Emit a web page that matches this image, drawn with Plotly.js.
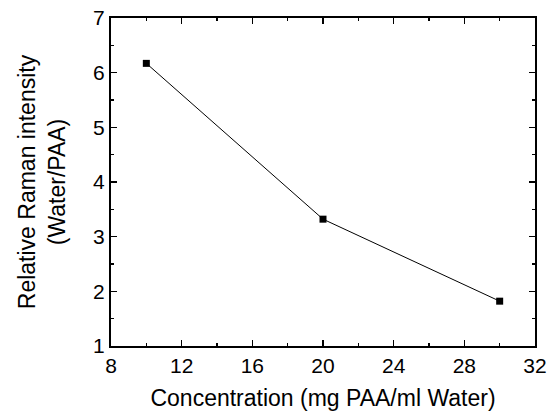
<!DOCTYPE html>
<html>
<head>
<meta charset="utf-8">
<script src="https://cdn.plot.ly/plotly-3.0.1.min.js"></script>
<style>html,body{margin:0;padding:0;background:#fff;}#chart{width:554px;height:413px;}</style>
</head>
<body>
<div id="chart"></div>
<script>
const concentration = [10, 20, 30];
const intensity = [6.17, 3.32, 1.82];
const xTicks = [8, 12, 16, 20, 24, 28, 32];
const yTicks = [1, 2, 3, 4, 5, 6, 7];

const trace = {
  x: concentration,
  y: intensity,
  mode: 'lines+markers',
  type: 'scatter',
  line: {color: '#000', width: 1},
  marker: {symbol: 'square', size: 7, color: '#000'},
  showlegend: false
};

const font = {family: 'Liberation Sans, Arial, sans-serif', color: '#000'};
const axisCommon = {
  showgrid: false, zeroline: false,
  showline: true, linecolor: '#000', linewidth: 2, mirror: 'ticks',
  ticks: 'inside', ticklen: 6, tickwidth: 1.5, tickcolor: '#000',
  tickfont: Object.assign({size: 21}, font)
};

const layout = {
  width: 554, height: 413,
  margin: {l: 111, r: 19, t: 18, b: 67},
  paper_bgcolor: '#fff', plot_bgcolor: '#fff',
  xaxis: Object.assign({}, axisCommon, {
    range: [8, 32], tickvals: xTicks, ticktext: xTicks.map(String),
    minor: {ticks: 'inside', ticklen: 3, tickwidth: 1.5, tickcolor: '#000', dtick: 2, tick0: 8},
    title: {text: 'Concentration (mg PAA/ml Water)', font: Object.assign({size: 23}, font), standoff: 14}
  }),
  yaxis: Object.assign({}, axisCommon, {
    range: [1, 7], tickvals: yTicks, ticktext: yTicks.map(String),
    minor: {ticks: 'inside', ticklen: 3, tickwidth: 1.5, tickcolor: '#000', dtick: 0.5, tick0: 1},
    title: {text: 'Relative Raman intensity<br>(Water/PAA)', font: Object.assign({size: 23}, font), standoff: 21}
  })
};

Plotly.newPlot('chart', [trace], layout, {displayModeBar: false, staticPlot: true});
</script>
</body>
</html>
